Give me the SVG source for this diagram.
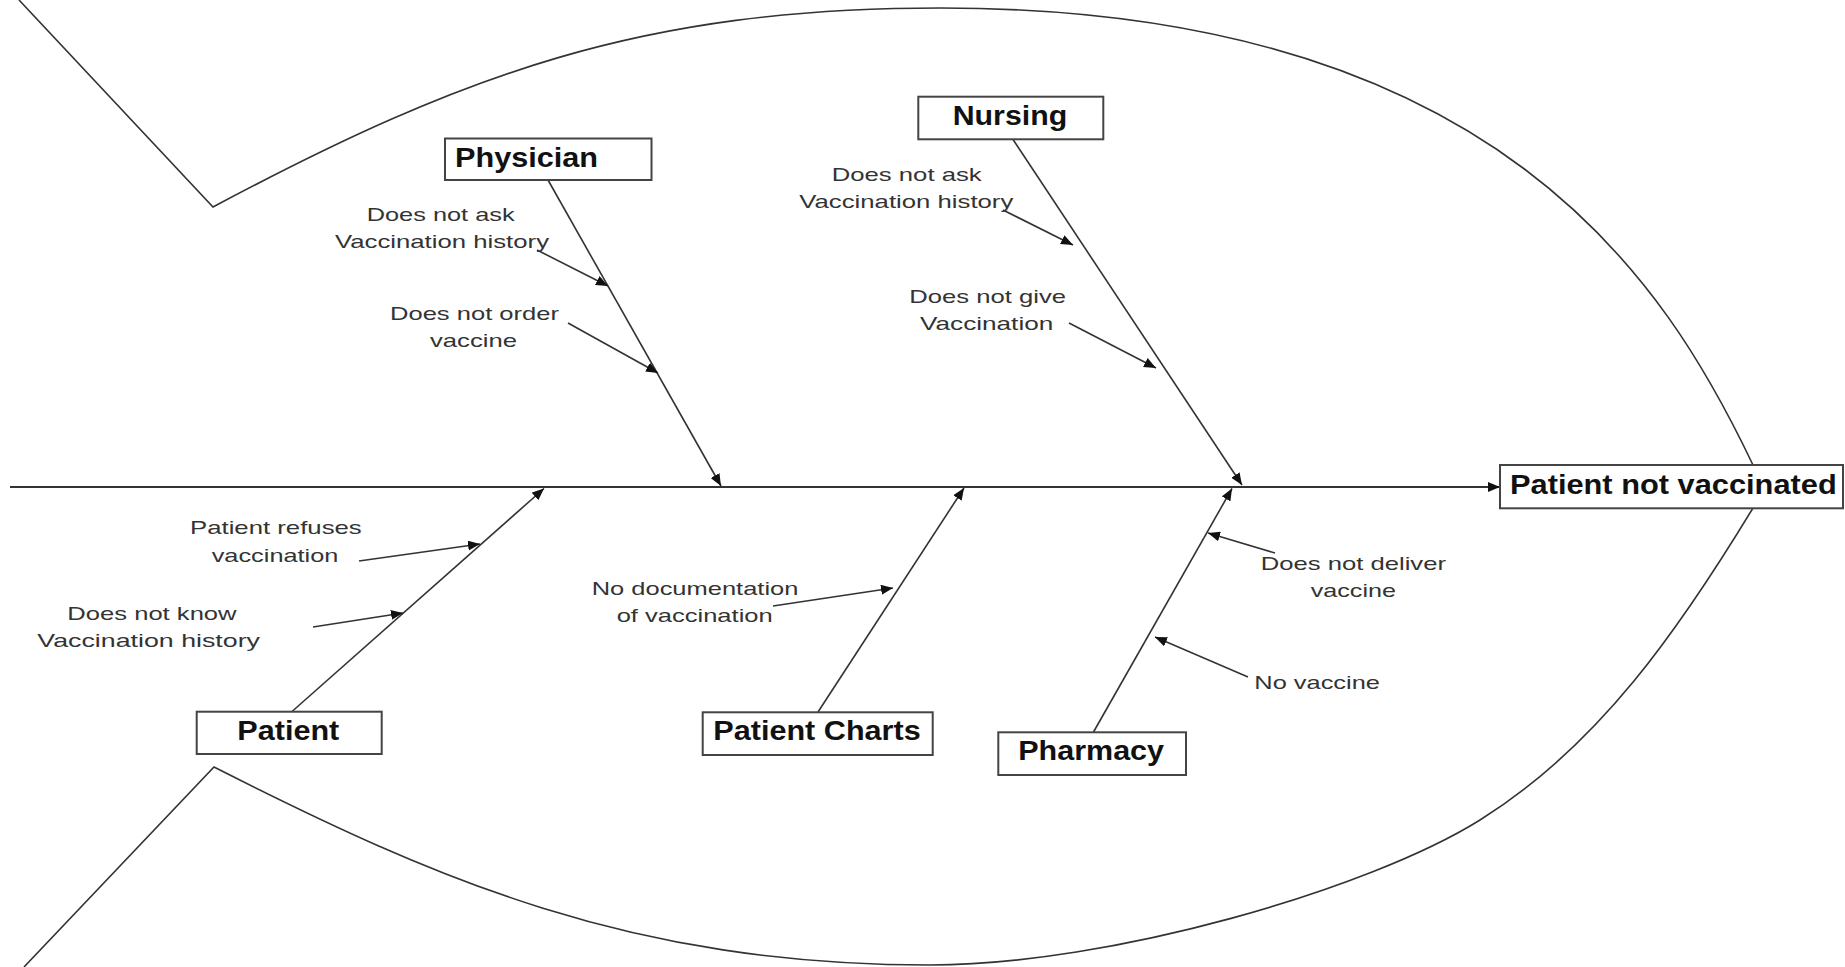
<svg xmlns="http://www.w3.org/2000/svg" width="1845" height="967" viewBox="0 0 1845 967">
<defs>
<marker id="ah" viewBox="0 0 12 10" refX="12" refY="5" markerWidth="12" markerHeight="10" orient="auto" markerUnits="userSpaceOnUse"><path d="M0,0 L12,5 L0,10 z" fill="#111"/></marker>
<style>
.fish{fill:none;stroke:#333;stroke-width:1.6}
.ln{stroke:#333;stroke-width:1.6;fill:none;marker-end:url(#ah)}
.axis{stroke:#333;stroke-width:2.2;fill:none;marker-end:url(#ah)}
.box{fill:#fff;stroke:#444;stroke-width:2}
.lbl{font-family:"Liberation Sans",Arial,sans-serif;font-weight:bold;font-size:27px;fill:#111}
.cause{font-family:"Liberation Sans",Arial,sans-serif;font-size:19px;fill:#333}
</style>
</defs>
<rect width="1845" height="967" fill="#fff"/>
<path class="fish" d="M19,0 L213,207 C463,74 641,8 941,8 C1500,8 1667,285 1753,465 L1762,487 L1753,508 C1680,628 1599,746 1480,820 C1369.5,889 1110,965 930,965 C630,965 436.5,879.5 214,767 L24,967"/>
<g id="connectors">
<line class="axis" x1="10" y1="487" x2="1500" y2="487"/>
<line class="ln" x1="548" y1="180" x2="721" y2="486"/>
<line class="ln" x1="537" y1="250" x2="608" y2="286"/>
<line class="ln" x1="568" y1="323" x2="658" y2="373"/>
<line class="ln" x1="1013" y1="139.5" x2="1242" y2="485"/>
<line class="ln" x1="1003" y1="210" x2="1073" y2="245"/>
<line class="ln" x1="1069" y1="323" x2="1156" y2="368"/>
<line class="ln" x1="292" y1="711.5" x2="544" y2="488.5"/>
<line class="ln" x1="359" y1="561" x2="480" y2="544"/>
<line class="ln" x1="313" y1="627" x2="403" y2="613"/>
<line class="ln" x1="818" y1="712" x2="964" y2="488"/>
<line class="ln" x1="773" y1="606" x2="893" y2="588"/>
<line class="ln" x1="1093.5" y1="732" x2="1232" y2="488.5"/>
<line class="ln" x1="1275" y1="553" x2="1208" y2="533"/>
<line class="ln" x1="1248" y1="677" x2="1155" y2="637"/>
</g>
<g id="physician">
<rect class="box" x="445" y="138.5" width="206.5" height="41.5"/>
<text class="lbl" x="455" y="166.5" textLength="143" lengthAdjust="spacingAndGlyphs">Physician</text>
<text class="cause" x="366.7" y="221" textLength="148" lengthAdjust="spacingAndGlyphs">Does not ask</text>
<text class="cause" x="335" y="248.3" textLength="214" lengthAdjust="spacingAndGlyphs">Vaccination history</text>
<text class="cause" x="390" y="320" textLength="169" lengthAdjust="spacingAndGlyphs">Does not order</text>
<text class="cause" x="430" y="346.7" textLength="87" lengthAdjust="spacingAndGlyphs">vaccine</text>
</g>
<g id="nursing">
<rect class="box" x="918.3" y="96.7" width="185" height="42.6"/>
<text class="lbl" x="952.7" y="125" textLength="114.6" lengthAdjust="spacingAndGlyphs">Nursing</text>
<text class="cause" x="831.7" y="180.7" textLength="150" lengthAdjust="spacingAndGlyphs">Does not ask</text>
<text class="cause" x="799.3" y="208.3" textLength="214" lengthAdjust="spacingAndGlyphs">Vaccination history</text>
<text class="cause" x="909.3" y="303.3" textLength="156.7" lengthAdjust="spacingAndGlyphs">Does not give</text>
<text class="cause" x="920" y="330" textLength="133.3" lengthAdjust="spacingAndGlyphs">Vaccination</text>
</g>
<g id="patient">
<rect class="box" x="196.7" y="711.7" width="185" height="42.3"/>
<text class="lbl" x="237.3" y="740" textLength="102" lengthAdjust="spacingAndGlyphs">Patient</text>
<text class="cause" x="190" y="534.3" textLength="171.7" lengthAdjust="spacingAndGlyphs">Patient refuses</text>
<text class="cause" x="211.7" y="561.7" textLength="126.7" lengthAdjust="spacingAndGlyphs">vaccination</text>
<text class="cause" x="67.3" y="620" textLength="169.3" lengthAdjust="spacingAndGlyphs">Does not know</text>
<text class="cause" x="37.3" y="646.7" textLength="222.7" lengthAdjust="spacingAndGlyphs">Vaccination history</text>
</g>
<g id="patient-charts">
<rect class="box" x="702.7" y="712.3" width="230" height="42.7"/>
<text class="lbl" x="713.3" y="740" textLength="207.4" lengthAdjust="spacingAndGlyphs">Patient Charts</text>
<text class="cause" x="591.7" y="595" textLength="206.7" lengthAdjust="spacingAndGlyphs">No documentation</text>
<text class="cause" x="616.7" y="622.3" textLength="156" lengthAdjust="spacingAndGlyphs">of vaccination</text>
</g>
<g id="pharmacy">
<rect class="box" x="998.3" y="732.3" width="187.7" height="42.7"/>
<text class="lbl" x="1018.3" y="760" textLength="145.7" lengthAdjust="spacingAndGlyphs">Pharmacy</text>
<text class="cause" x="1260.7" y="570" textLength="185.3" lengthAdjust="spacingAndGlyphs">Does not deliver</text>
<text class="cause" x="1310.7" y="596.7" textLength="85.3" lengthAdjust="spacingAndGlyphs">vaccine</text>
<text class="cause" x="1254.3" y="689.3" textLength="125.7" lengthAdjust="spacingAndGlyphs">No vaccine</text>
</g>
<g id="effect">
<rect class="box" x="1500" y="465" width="343" height="43.3"/>
<text class="lbl" x="1510" y="494" textLength="326.7" lengthAdjust="spacingAndGlyphs">Patient not vaccinated</text>
</g>
</svg>
